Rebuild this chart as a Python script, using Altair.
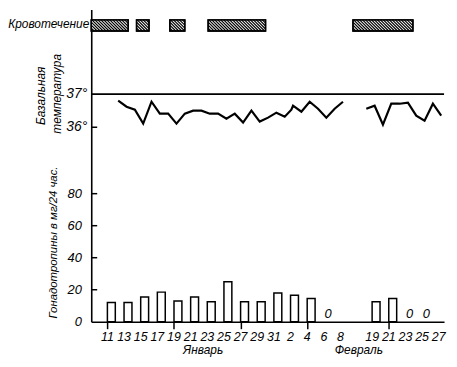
import altair as alt
import pandas as pd

# ---------------- data ----------------
GAP = 7.2  # compressed (omitted) days between Feb 8 and Feb 19 on the axis

def pos(month, day):
    if month == 1:
        return round(day - 11, 2)
    if day <= 8:
        return round(day + 20, 2)
    return round(day + 20 - GAP, 2)

tick_month = [1] * 11 + [2] * 9
tick_day = [11, 13, 15, 17, 19, 21, 23, 25, 27, 29, 31, 2, 4, 6, 8, 19, 21, 23, 25, 27]
tick_labels = [str(d) for d in tick_day]

gon_month = [1] * 11 + [2, 2, 2, 2]
gon_day = [11, 13, 15, 17, 19, 21, 23, 25, 27, 29, 31, 2, 4, 19, 21]
gon_value = [12, 12, 15.5, 18.5, 13, 15.5, 12.5, 25, 12.5, 12.5, 18, 16.5, 14.5, 12.5, 14.5]

zero_month = [2, 2, 2]
zero_day = [6, 23, 25]

# basal temperature, Jan 12 .. Feb 9
temp1_month = [1] * 20 + [2] * 9
temp1_day = list(range(12, 32)) + list(range(1, 10))
temp1 = [36.80, 36.62, 36.53, 36.11, 36.77, 36.41, 36.41, 36.11, 36.41, 36.50,
         36.50, 36.41, 36.41, 36.26, 36.41, 36.14, 36.50, 36.17, 36.29, 36.44,
         36.32, 36.65, 36.47, 36.77, 36.56, 36.29, 36.56, 36.77, 36.53]
# basal temperature, Feb 18 .. Feb 27
temp2_day = list(range(18, 28))
temp2 = [36.56, 36.65, 36.08, 36.71, 36.71, 36.74, 36.35, 36.20, 36.71, 36.35]

# bleeding periods (axis positions)
bleed_start = [-1.94, 3.5, 7.5, 12.1, 29.5]
bleed_end = [2.5, 5.0, 9.3, 19.0, 36.7]

# ---------------- layout helpers ----------------
W, H = 356, 315
XMIN, XMAX = -1.94, 40.44
YMAX = 195.0
PX_X = W / (XMAX - XMIN)
PX_Y = H / YMAX
T36 = 121.5      # y units of 36 deg
PER_DEG = 20.7   # y units per degree
B_TOP, B_BOT = 188.6, 181.6
TEMP_OFF = 0.3

xs = alt.Scale(domain=[XMIN, XMAX], nice=False, zero=False)
ys = alt.Scale(domain=[0, YMAX], nice=False, zero=False)
FONT = "Liberation Sans, Arial, sans-serif"

tick_pos = [pos(m, d) for m, d in zip(tick_month, tick_day)]
tick_df = pd.DataFrame({"x": tick_pos, "t": tick_labels})

gon_df = pd.DataFrame({
    "x": [pos(m, d) for m, d in zip(gon_month, gon_day)],
    "v": gon_value,
})
gon_df["x2"] = gon_df["x"] + 0.95
gon_df["y0"] = 0.0

zero_df = pd.DataFrame({"x": [pos(m, d) + 0.5 for m, d in zip(zero_month, zero_day)],
                        "y": [5.0] * 3, "t": ["0"] * 3})

t_rows = []
for m, d, t in zip(temp1_month, temp1_day, temp1):
    t_rows.append({"x": pos(m, d) + TEMP_OFF, "y": T36 + (t - 36) * PER_DEG, "seg": "a"})
for d, t in zip(temp2_day, temp2):
    t_rows.append({"x": pos(2, d) + TEMP_OFF, "y": T36 + (t - 36) * PER_DEG, "seg": "b"})
temp_df = pd.DataFrame(t_rows)

bleed_df = pd.DataFrame({"x": bleed_start, "x2": bleed_end,
                         "y": [B_TOP] * 5, "y2": [B_BOT] * 5})

# hatching inside bleeding boxes
hh_px = (B_TOP - B_BOT) * PX_Y
dx = hh_px / PX_X
step = 3.0 / PX_X
h_rows = []
for s, e in zip(bleed_start, bleed_end):
    a = s - dx
    while a < e:
        x1, x2, y1, y2 = a, a + dx, B_TOP, B_BOT
        if x1 < s:
            t = (s - x1) / dx
            x1 = s
            y1 = B_TOP - t * (B_TOP - B_BOT)
        if x2 > e:
            t = (x2 - e) / dx
            x2 = e
            y2 = B_BOT + t * (B_TOP - B_BOT)
        if x2 > x1:
            h_rows.append({"x": x1, "x2": x2, "y": y1, "y2": y2})
        a += step
hatch_df = pd.DataFrame(h_rows)

XN = alt.X("x:Q", scale=xs)
YN = alt.Y("y:Q", scale=ys)

bars = alt.Chart(gon_df).mark_rect(fill="white", stroke="black", strokeWidth=1.5).encode(
    x=alt.X("x:Q", scale=xs, title=None,
            axis=alt.Axis(values=tick_pos, labels=False, tickSize=7, tickWidth=1.5,
                          tickColor="black", grid=False)),
    x2="x2:Q",
    y=alt.Y("v:Q", scale=ys, title=None,
            axis=alt.Axis(values=[0, 20, 40, 60, 80], ticks=False, labelPadding=10, grid=False,
                          labelOverlap=False)),
    y2="y0:Q",
)

xlabels = alt.Chart(tick_df).mark_text(font=FONT, fontStyle="italic", fontSize=12.5,
                                       baseline="middle").encode(
    x=XN, y=alt.value(H + 15), text="t:N")

zeros = alt.Chart(zero_df).mark_text(font=FONT, fontStyle="italic", fontSize=13,
                                     baseline="middle").encode(x=XN, y=YN, text="t:N")

ytick_df = pd.DataFrame({"y": [20, 40, 60, 80, T36]})
yticks = alt.Chart(ytick_df).mark_rule(color="black", strokeWidth=1.5).encode(
    y=YN, x=alt.value(0), x2=alt.value(6))

r37 = alt.Chart(pd.DataFrame({"y": [T36 + PER_DEG]})).mark_rule(
    color="black", strokeWidth=1.6).encode(y=YN)

temp_line = alt.Chart(temp_df).mark_line(color="black", strokeWidth=2.2,
                                         strokeJoin="miter").encode(
    x=XN, y=YN, detail="seg:N")

temp_lab = alt.Chart(pd.DataFrame({"y": [T36, T36 + PER_DEG], "t": ["36°", "37°"]})).mark_text(
    font=FONT, fontStyle="italic", fontSize=14, align="right", baseline="middle").encode(
    y=YN, x=alt.value(-4), text="t:N")

bleed = alt.Chart(bleed_df).mark_rect(fill="white", stroke="black", strokeWidth=1.4).encode(
    x=XN, x2="x2:Q", y=YN, y2="y2:Q")

hatch = alt.Chart(hatch_df).mark_rule(color="black", strokeWidth=1.2).encode(
    x=XN, x2="x2:Q", y=YN, y2="y2:Q")

bleed_outline = alt.Chart(bleed_df).mark_rect(fill=None, stroke="black", strokeWidth=1.4).encode(
    x=XN, x2="x2:Q", y=YN, y2="y2:Q")

bleed_lab = alt.Chart(pd.DataFrame({"y": [(B_TOP + B_BOT) / 2 + 1], "t": ["Кровотечение"]})).mark_text(
    font=FONT, fontStyle="italic", fontSize=12, align="right", baseline="middle").encode(
    y=YN, x=alt.value(-2), text="t:N")

titles_df = pd.DataFrame({
    "t": ["Базальная", "температура", "Гонадотропины в мг/24 час."],
    "px": [-51, -35, -38],
    "py": [87, 85, 235],
    "fs": [12, 12, 11.5],
})
titles = alt.Chart(titles_df).mark_text(
    font=FONT, fontStyle="italic", angle=270, align="center", baseline="middle").encode(
    x=alt.X("px:Q", scale=None), y=alt.Y("py:Q", scale=None),
    text="t:N", size=alt.Size("fs:Q", scale=None, legend=None))

month_df = pd.DataFrame({"x": [11.5, 30.2], "t": ["Январь", "Февраль"]})
months = alt.Chart(month_df).mark_text(
    font=FONT, fontStyle="italic", fontSize=12, baseline="middle").encode(
    x=XN, y=alt.value(H + 29), text="t:N")

chart = alt.layer(
    bars, xlabels, zeros, yticks, r37, temp_line, temp_lab, bleed, hatch, bleed_outline,
    bleed_lab, titles, months
).properties(
    width=W, height=H,
    background="white",
    autosize=alt.AutoSizeParams(type="none"),
    padding={"left": 84, "top": 0, "right": 5, "bottom": 36},
).configure_view(strokeWidth=0).configure_axis(
    labelFont=FONT, labelFontStyle="italic", labelFontSize=13, labelColor="black",
    domainColor="black", domainWidth=1.6,
)

chart.save("out.html", embed_options={"renderer": "svg", "actions": False})
